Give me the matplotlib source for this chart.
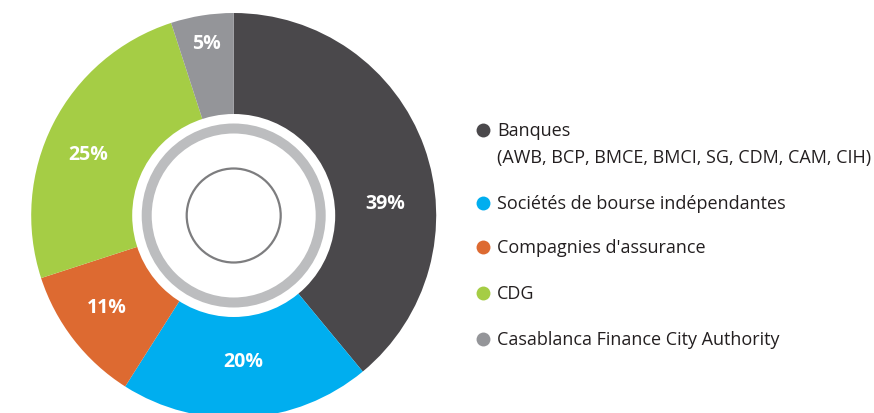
import matplotlib
matplotlib.use("Agg")
import matplotlib.pyplot as plt
import numpy as np
from matplotlib.patches import Circle

categories = ["Banques", "Sociétés de bourse indépendantes", "Compagnies d'assurance",
              "CDG", "Casablanca Finance City Authority"]
legend_labels = ["Banques\n(AWB, BCP, BMCE, BMCI, SG, CDM, CAM, CIH)",
                 "Sociétés de bourse indépendantes", "Compagnies d'assurance",
                 "CDG", "Casablanca Finance City Authority"]
values = [39, 20, 11, 25, 5]
pct_labels = ["39%", "20%", "11%", "25%", "5%"]
colors = ["#4a484b", "#00aeef", "#dd6a31", "#a5cd45", "#949599"]

plt.rcParams['font.family'] = ['Open Sans', 'DejaVu Sans']

W, H = 874, 414
fig = plt.figure(figsize=(W / 100, H / 100), dpi=100)
ax = fig.add_axes([0, 0, 1, 1])

cx, cy = 233.7, H - 216.5
R = 202.5
wedges, _ = ax.pie(values, colors=colors, startangle=90, counterclock=False,
                   radius=R, center=(cx, cy), frame=True,
                   wedgeprops=dict(linewidth=0))
ax.set_xlim(0, W)
ax.set_ylim(0, H)
ax.set_aspect('equal')
ax.axis('off')

# inner decorations
ax.add_patch(Circle((cx, cy), 101.5, facecolor='white', edgecolor='none', zorder=3))
ax.add_patch(Circle((cx, cy), 87, facecolor='none', edgecolor='#bcbdbf', linewidth=7.2, zorder=4))
ax.add_patch(Circle((cx, cy), 47, facecolor='none', edgecolor='#7d7d7f', linewidth=1.6, zorder=4))

# percentage labels
label_r = [152, 146, 156, 158, 175]
angle_shift = [-15, 0, -2, 4, 0]
for w, lab, r, sh in zip(wedges, pct_labels, label_r, angle_shift):
    ang = np.deg2rad((w.theta1 + w.theta2) / 2 + sh)
    ax.text(cx + r * np.cos(ang), cy + r * np.sin(ang), lab, color='white',
            fontsize=14, fontweight='bold', ha='center', va='center', zorder=5)

# legend
leg_y = [131, 204, 248, 294, 340]
for y, col, lab in zip(leg_y, colors, legend_labels):
    ax.scatter([483], [H - y], s=100, color=col, zorder=5, linewidths=0)
    lines = lab.split("\n")
    ax.text(497, H - y, lines[0], fontsize=13, color='#231f20', va='center', ha='left')
    if len(lines) > 1:
        ax.text(497, H - y - 27, lines[1], fontsize=13, color='#231f20', va='center', ha='left')

fig.savefig("out.png", dpi=100)
